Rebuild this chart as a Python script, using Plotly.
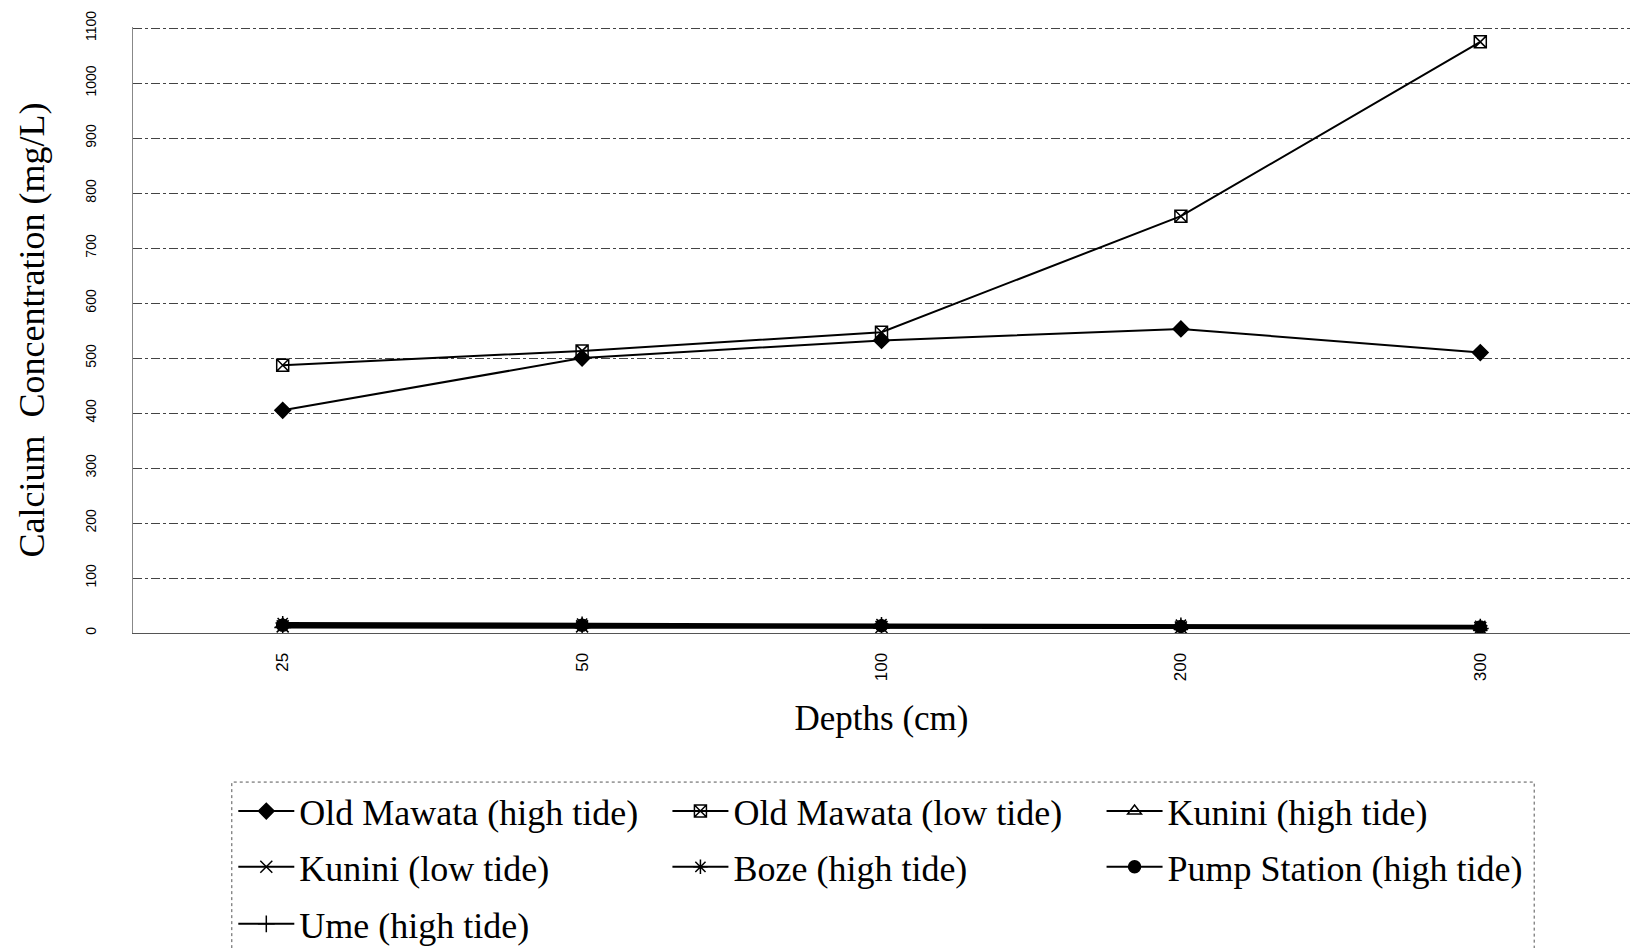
import plotly.graph_objects as go

depths = ["25", "50", "100", "200", "300"]

old_mawata_high = [405, 500, 532, 553, 510]
old_mawata_low = [487, 513, 547, 758, 1075]
kunini_high = [16, 15, 14, 12, 10]
kunini_low = [12, 12, 11, 10, 9]
boze_high = [18, 17, 16, 15, 13]
pump_station_high = [14, 14, 13, 12, 11]
ume_high = [10, 10, 9, 9, 8]

y_ticks = [0, 100, 200, 300, 400, 500, 600, 700, 800, 900, 1000, 1100]

series = [
    ("Old Mawata (high tide)", old_mawata_high, "diamond"),
    ("Old Mawata (low tide)", old_mawata_low, "square-x-open"),
    ("Kunini (high tide)", kunini_high, "triangle-up-open"),
    ("Kunini (low tide)", kunini_low, "x-thin-open"),
    ("Boze (high tide)", boze_high, "asterisk-open"),
    ("Pump Station (high tide)", pump_station_high, "circle"),
    ("Ume (high tide)", ume_high, "cross-thin-open"),
]

FONT = "Liberation Serif"

# legend grid: 3 columns, 3 rows (paper coordinates)
col_x = [0.067, 0.357, 0.647]
row_y = [-0.294, -0.386, -0.480]

fig = go.Figure()
legends = {}
for i, (name, vals, sym) in enumerate(series):
    leg_id = "legend" if i == 0 else f"legend{i+1}"
    fig.add_trace(go.Scatter(
        x=depths, y=vals, name=name, mode="lines+markers",
        line=dict(color="black", width=2),
        marker=dict(symbol=sym, size=12, color="black",
                    line=dict(color="black", width=1.5)),
        legend=leg_id,
    ))
    legends[leg_id] = dict(
        x=col_x[i % 3], y=row_y[i // 3], xanchor="left", yanchor="middle",
        orientation="h", font=dict(family=FONT, size=36, color="black"),
        bgcolor="rgba(0,0,0,0)", itemwidth=56,
    )

fig.update_layout(
    width=1640, height=948,
    paper_bgcolor="white", plot_bgcolor="white",
    margin=dict(l=133, r=10, t=27, b=315, autoexpand=False),
    font=dict(family=FONT, color="black"),
    xaxis=dict(
        type="category", range=[-0.5, 4.5],
        tickangle=-90, tickfont=dict(family="Liberation Sans", size=17),
        showgrid=False, showline=True, linecolor="#555", linewidth=1,
        ticks="", ticklabelstandoff=12,
        title=dict(text="Depths (cm)", font=dict(family=FONT, size=35), standoff=25),
    ),
    yaxis=dict(
        range=[0, 1102], tickvals=y_ticks, tickangle=-90,
        tickfont=dict(family="Liberation Sans", size=14),
        showgrid=True, gridcolor="#444", griddash="dashdot", gridwidth=1,
        showline=True, linecolor="#888", linewidth=1,
        ticks="", ticklabelstandoff=30, zeroline=False,
        title=dict(text="Calcium  Concentration (mg/L)", font=dict(family=FONT, size=36), standoff=27),
    ),
    showlegend=True,
    **legends,
)

fig.add_shape(type="rect", xref="paper", yref="paper",
              x0=0.066, x1=0.936, y0=-0.54, y1=-0.246,
              line=dict(color="#555", width=1, dash="dot"))

fig.write_html("out.html")
